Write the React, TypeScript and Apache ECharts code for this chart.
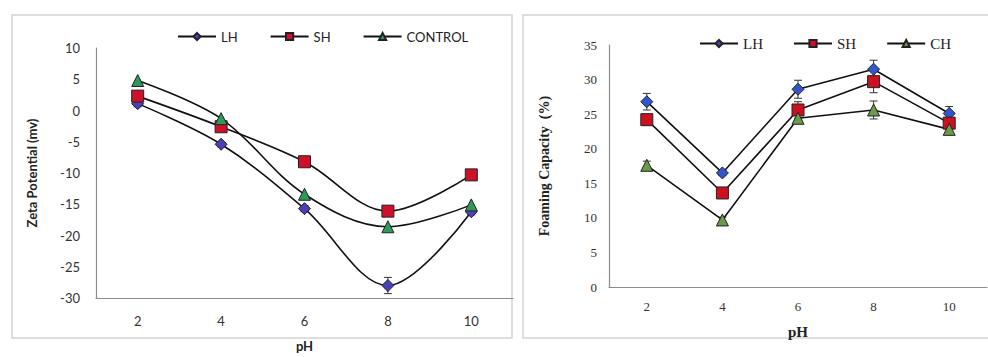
import React, { useEffect, useRef } from "react";
import * as echarts from "echarts";

const phCategories = ["2", "4", "6", "8", "10"];

const zetaLH = [1.1, -5.4, -15.7, -28.0, -16.2];
const zetaSH = [2.3, -2.6, -8.2, -16.1, -10.3];
const zetaControl = [4.8, -1.3, -13.4, -18.6, -15.1];
const zetaLHErr = [0.5, 0.4, 0.5, 1.3, 0.5];

const foamLH = [26.8, 16.5, 28.6, 31.5, 25.1];
const foamSH = [24.2, 13.6, 25.6, 29.7, 23.7];
const foamCH = [17.6, 9.7, 24.4, 25.6, 22.8];
const foamLHErr = [1.2, 0.4, 1.3, 1.3, 1.0];
const foamSHErr = [0.8, 0.5, 1.2, 1.6, 0.8];
const foamCHErr = [0.6, 0.4, 0.6, 1.3, 0.6];

const zetaTicks = { min: -30, max: 10, interval: 5 };
const foamTicks = { min: 0, max: 35, interval: 5 };

const SANS = "Lato";
const SERIF = "Liberation Serif";

function errorSeries(name: string, values: number[], errs: number[], xAxisIndex: number, yAxisIndex: number) {
  return {
    type: "custom",
    name,
    xAxisIndex,
    yAxisIndex,
    silent: true,
    z: 1,
    data: values.map((v, i) => [i, v - errs[i], v + errs[i]]),
    renderItem: (params: any, api: any) => {
      const lo = api.coord([api.value(0), api.value(1)]);
      const hi = api.coord([api.value(0), api.value(2)]);
      const w = 4;
      const style = { stroke: "#333", lineWidth: 1 };
      return {
        type: "group",
        children: [
          { type: "line", shape: { x1: lo[0], y1: lo[1], x2: hi[0], y2: hi[1] }, style },
          { type: "line", shape: { x1: lo[0] - w, y1: lo[1], x2: lo[0] + w, y2: lo[1] }, style },
          { type: "line", shape: { x1: hi[0] - w, y1: hi[1], x2: hi[0] + w, y2: hi[1] }, style },
        ],
      };
    },
  };
}

function lineSeries(name: string, data: number[], symbol: string, size: number, color: string, xAxisIndex: number, yAxisIndex: number, smooth: boolean | number) {
  return {
    type: "line",
    name,
    data,
    xAxisIndex,
    yAxisIndex,
    smooth,
    symbol,
    symbolSize: size,
    z: 3,
    lineStyle: { color: "#111", width: 1.6 },
    itemStyle: { color, borderColor: "#222", borderWidth: 1 },
  };
}

export default function App() {
  const ref = useRef<HTMLDivElement>(null);
  useEffect(() => {
    if (!ref.current) return;
    const chart = echarts.init(ref.current, null, { renderer: "svg" });
    const axisLine = { show: true, onZero: false, lineStyle: { color: "#8c8c8c", width: 1.2 } };
    const option: any = {
      animation: false,
      backgroundColor: "#fff",
      graphic: [
        { type: "rect", shape: { x: 12, y: 15, width: 500, height: 323 }, style: { fill: "none", stroke: "#d4d4d4", lineWidth: 1.5 } },
        { type: "rect", shape: { x: 523, y: 15, width: 470, height: 323 }, style: { fill: "none", stroke: "#d4d4d4", lineWidth: 1.5 } },
      ],
      legend: [
        {
          left: 172,
          top: 25,
          itemWidth: 38,
          itemHeight: 9,
          itemGap: 32,
          data: ["LH", "SH", "CONTROL"],
          textStyle: { fontFamily: SANS, fontSize: 13, color: "#222" },
        },
        {
          left: 694,
          top: 31,
          itemWidth: 38,
          itemHeight: 9,
          itemGap: 30,
          data: ["LH", "SH", "CH"],
          textStyle: { fontFamily: SERIF, fontSize: 15, color: "#222" },
        },
      ],
      grid: [
        { left: 96, top: 48, width: 417, height: 253, containLabel: false },
        { left: 609, top: 45, width: 378, height: 242, containLabel: false },
      ],
      xAxis: [
        {
          type: "category",
          gridIndex: 0,
          data: phCategories,
          boundaryGap: true,
          name: "pH",
          nameLocation: "middle",
          nameGap: 41,
          nameTextStyle: { fontFamily: SANS, fontWeight: "bold", fontSize: 13, color: "#222" },
          axisLine,
          axisTick: { show: false },
          axisLabel: { fontFamily: SANS, fontSize: 13, color: "#333", margin: 16 },
        },
        {
          type: "category",
          gridIndex: 1,
          data: phCategories,
          boundaryGap: true,
          name: "pH",
          nameLocation: "middle",
          nameGap: 37,
          nameTextStyle: { fontFamily: SERIF, fontWeight: "bold", fontSize: 15, color: "#222" },
          axisLine,
          axisTick: { show: false },
          axisLabel: { fontFamily: SERIF, fontSize: 13, color: "#333", margin: 13 },
        },
      ],
      yAxis: [
        {
          type: "value",
          gridIndex: 0,
          ...zetaTicks,
          name: "Zeta Potential (mv)",
          nameLocation: "middle",
          nameGap: 58,
          nameTextStyle: { fontFamily: SANS, fontWeight: "bold", fontSize: 13, color: "#222" },
          axisLine,
          axisTick: { show: false },
          splitLine: { show: false },
          axisLabel: { fontFamily: SANS, fontSize: 13, color: "#333", margin: 16 },
        },
        {
          type: "value",
          gridIndex: 1,
          ...foamTicks,
          name: "Foaming Capacity  (%)",
          nameLocation: "middle",
          nameGap: 58,
          nameTextStyle: { fontFamily: SERIF, fontWeight: "bold", fontSize: 14, color: "#222" },
          axisLine,
          axisTick: { show: false },
          splitLine: { show: false },
          axisLabel: { fontFamily: SERIF, fontSize: 13, color: "#333", margin: 12 },
        },
      ],
      series: [
        errorSeries("errLH", zetaLH, zetaLHErr, 0, 0),
        lineSeries("LH", zetaLH, "diamond", 12, "#4a3fb8", 0, 0, 0.35),
        lineSeries("SH", zetaSH, "rect", 12, "#d0102a", 0, 0, 0.35),
        lineSeries("CONTROL", zetaControl, "triangle", 12, "#2e9a5a", 0, 0, 0.35),
        errorSeries("errLH2", foamLH, foamLHErr, 1, 1),
        errorSeries("errSH2", foamSH, foamSHErr, 1, 1),
        errorSeries("errCH2", foamCH, foamCHErr, 1, 1),
        lineSeries("LH", foamLH, "diamond", 12, "#3355cc", 1, 1, false),
        lineSeries("SH", foamSH, "rect", 12, "#cc1020", 1, 1, false),
        lineSeries("CH", foamCH, "triangle", 12, "#6a9a4a", 1, 1, false),
      ],
    };
    chart.setOption(option);
    return () => chart.dispose();
  }, []);
  return <div ref={ref} style={{ position: "fixed", left: 0, top: 0, width: 988, height: 357 }} />;
}
